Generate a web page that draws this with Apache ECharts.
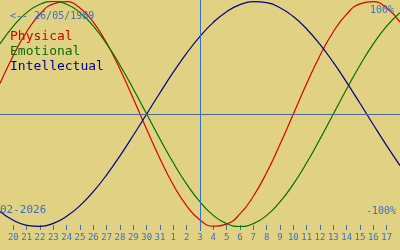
<!DOCTYPE html>
<html>
<head>
<meta charset="utf-8">
<script src="https://cdn.jsdelivr.net/npm/echarts@6/dist/echarts.min.js"></script>
<style>
html,body{margin:0;padding:0;background:#e0d282;}
#c{width:400px;height:250px;}
</style>
</head>
<body>
<div id="c"></div>
<script>
// day offsets relative to 20 Jan (−1 = 19 Jan … 29 = 18 Feb)
const dayIndex = [-1,0,1,2,3,4,5,6,7,8,9,10,11,12,13,14,15,16,17,18,19,20,21,22,23,24,25,26,27,28,29];
const tickDays = [0,1,2,3,4,5,6,7,8,9,10,11,12,13,14,15,16,17,18,19,20,21,22,23,24,25,26,27,28];
const tickLabels = ['20','21','22','23','24','25','26','27','28','29','30','31','1','2','3','4','5','6','7','8','9','10','11','12','13','14','15','16','17'];
const physical = [0.27,0.52,0.731,0.888,0.979,0.998,0.942,0.817,0.631,0.398,0.136,-0.136,-0.398,-0.631,-0.817,-0.942,-0.998,-0.979,-0.888,-0.731,-0.52,-0.27,0,0.27,0.52,0.731,0.888,0.979,0.998,0.942,0.817];
const emotional = [0.6235,0.7818,0.901,0.9749,1,0.9749,0.901,0.7818,0.6235,0.4339,0.2225,0,-0.2225,-0.4339,-0.6235,-0.7818,-0.901,-0.9749,-1,-0.9749,-0.901,-0.7818,-0.6235,-0.4339,-0.2225,0,0.2225,0.4339,0.6235,0.7818,0.901];
const intellectual = [-0.866,-0.945,-0.9898,-0.9989,-0.9718,-0.9096,-0.8146,-0.6901,-0.5406,-0.3717,-0.1893,0,0.1893,0.3717,0.5406,0.6901,0.8146,0.9096,0.9718,0.9989,0.9898,0.945,0.866,0.7557,0.6182,0.4582,0.2817,0.0951,-0.0951,-0.2817,-0.4582];
const todayIndex = 14;
const birthLabel = '<-- 26/05/1989';
const monthLabel = '02-2026';
const names = ['Physical','Emotional','Intellectual'];

const MONO = 'DejaVu Sans Mono';
const pair = a => dayIndex.map((d,i)=>[d,a[i]]);
const chart = echarts.init(document.getElementById('c'), null, {renderer:'canvas'});
chart.setOption({
  animation:false,
  backgroundColor:'#e0d282',
  grid:{left:0,right:0,top:0,height:231},
  xAxis:{type:'value',min:-1,max:29,interval:1,offset:-6,position:'bottom',
    axisLine:{show:false,onZero:false},
    splitLine:{show:false},
    axisTick:{show:true,length:5,lineStyle:{color:'#3a6fc4',width:1},customValues:tickDays},
    axisLabel:{show:true,margin:8,color:'#3a6fc4',fontFamily:MONO,fontSize:9,customValues:tickDays,
      formatter:v=>tickLabels[tickDays.indexOf(Math.round(v))] ?? ''}},
  yAxis:{type:'value',min:-1.04,max:1.0133,show:false,splitLine:{show:false}},
  title:[
    {text:birthLabel,left:10,top:11,padding:0,textStyle:{color:'#3a6fc4',fontFamily:MONO,fontSize:10,fontWeight:'normal'}},
    {text:names[0],left:10,top:30,padding:0,textStyle:{color:'#d40000',fontFamily:MONO,fontSize:13,fontWeight:'normal'}},
    {text:names[1],left:10,top:45,padding:0,textStyle:{color:'#0a6a0a',fontFamily:MONO,fontSize:13,fontWeight:'normal'}},
    {text:names[2],left:10,top:60,padding:0,textStyle:{color:'#000080',fontFamily:MONO,fontSize:13,fontWeight:'normal'}},
    {text:monthLabel,left:0,top:205,padding:0,textStyle:{color:'#3a6fc4',fontFamily:MONO,fontSize:11,fontWeight:'normal'}},
    {text:'-100%',right:4,top:206,padding:0,textStyle:{color:'#3a6fc4',fontFamily:MONO,fontSize:10,fontWeight:'normal'}},
    {text:'100%',right:6,top:5,padding:0,textStyle:{color:'#3a6fc4',fontFamily:MONO,fontSize:10,fontWeight:'normal'}}
  ],
  series:[
    {type:'line',name:names[0],data:pair(physical),smooth:true,showSymbol:false,lineStyle:{color:'#dc0000',width:1.2},
      markLine:{silent:true,symbol:'none',label:{show:false},
        data:[{xAxis:todayIndex,lineStyle:{color:'#3070c8',width:1,type:'solid'}},
              {yAxis:0,lineStyle:{color:'#50698c',width:1,type:'solid'}}]}},
    {type:'line',name:names[1],data:pair(emotional),smooth:true,showSymbol:false,lineStyle:{color:'#007000',width:1.2}},
    {type:'line',name:names[2],data:pair(intellectual),smooth:true,showSymbol:false,lineStyle:{color:'#000088',width:1.2}}
  ]
});
</script>
</body>
</html>
